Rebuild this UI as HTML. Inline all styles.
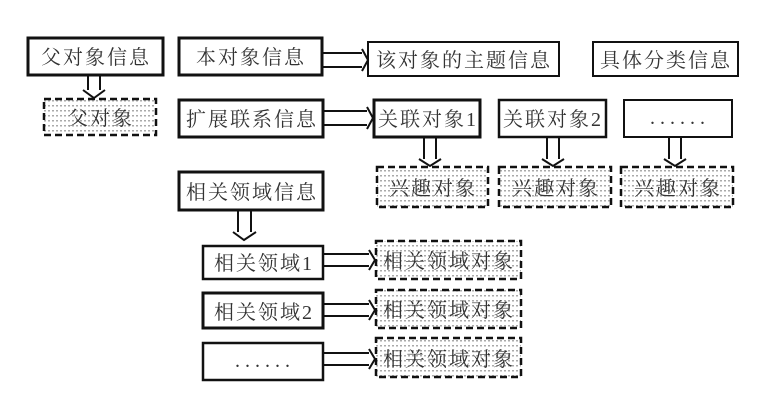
<!DOCTYPE html>
<html><head><meta charset="utf-8"><style>
html,body{margin:0;padding:0;background:#fff;}
svg{display:block;}
text{font-family:"Liberation Serif","Noto Serif CJK SC","Noto Sans CJK SC",serif;font-size:20px;fill:#333;letter-spacing:2px;}
</style></head><body>
<svg width="762" height="407" viewBox="0 0 762 407" xmlns="http://www.w3.org/2000/svg">
<defs>
<pattern id="dots" width="4" height="5" patternUnits="userSpaceOnUse">
<rect x="0" y="0" width="2" height="1.5" fill="#aaa"/>
</pattern>
</defs>
<g fill="#fff" stroke="#111" stroke-width="2.5">
<rect x="28" y="38" width="135" height="37" stroke-width="3"/>
<rect x="179" y="38" width="143" height="37" stroke-width="3"/>
<rect x="368" y="42" width="191" height="34" stroke-width="2"/>
<rect x="593" y="42" width="145" height="34" stroke-width="2"/>
<rect x="179" y="100" width="144" height="37" stroke-width="3"/>
<rect x="374" y="100" width="106" height="37" stroke-width="3"/>
<rect x="499" y="100" width="107" height="37" stroke-width="2.5"/>
<rect x="624" y="100" width="108" height="37" stroke-width="2"/>
<rect x="179" y="172" width="144" height="38" stroke-width="3"/>
<rect x="203" y="246" width="120" height="33" stroke-width="2.5"/>
<rect x="203" y="293" width="120" height="35" stroke-width="3"/>
<rect x="203" y="343" width="120" height="37" stroke-width="2.5"/>
</g>
<g fill="url(#dots)" stroke="#111" stroke-width="2.5" stroke-dasharray="7,4">
<rect x="44" y="99" width="112" height="36"/>
<rect x="377" y="167" width="111" height="40"/>
<rect x="499" y="167" width="112" height="40"/>
<rect x="621" y="167" width="112" height="40"/>
<rect x="376" y="241" width="145" height="38"/>
<rect x="376" y="290" width="145" height="38"/>
<rect x="376" y="338" width="145" height="39"/>
</g>
<g fill="none" stroke="#111" stroke-width="2">
<path d="M88 75V90M100 75V90M83 90L94 98L105 90"/>
<path d="M424 137V159M436 137V159M419 159L430 166L441 159"/>
<path d="M547 137V159M559 137V159M542 159L553 166L564 159"/>
<path d="M669 137V159M681 137V159M664 159L675 166L686 159"/>
<path d="M238 210V232M251 210V232M233 232L244 240L256 232"/>
<path d="M322 53H362M322 67H362M362 49L368 60L362 71"/>
<path d="M323 111H367M323 125H367M367 107L373 118L367 129"/>
<path d="M323 254H369M323 266H369M369 250L375 260L369 270"/>
<path d="M323 304H369M323 316H369M369 300L375 310L369 320"/>
<path d="M323 353H369M323 365H369M369 349L375 359L369 369"/>
</g>
<g text-anchor="middle">
<text x="96" y="64">父对象信息</text>
<text x="251" y="64">本对象信息</text>
<text x="464" y="67">该对象的主题信息</text>
<text x="666" y="67">具体分类信息</text>
<text x="101" y="125">父对象</text>
<text x="252" y="126">扩展联系信息</text>
<text x="428" y="126">关联对象1</text>
<text x="553" y="126">关联对象2</text>
<text x="680" y="124" style="letter-spacing:5px">......</text>
<text x="433" y="195">兴趣对象</text>
<text x="556" y="195">兴趣对象</text>
<text x="678" y="195">兴趣对象</text>
<text x="252" y="199">相关领域信息</text>
<text x="264" y="270">相关领域1</text>
<text x="264" y="319">相关领域2</text>
<text x="265" y="367" style="letter-spacing:5px">......</text>
<text x="449" y="268">相关领域对象</text>
<text x="449" y="317">相关领域对象</text>
<text x="449" y="366">相关领域对象</text>
</g>
</svg>
</body></html>
